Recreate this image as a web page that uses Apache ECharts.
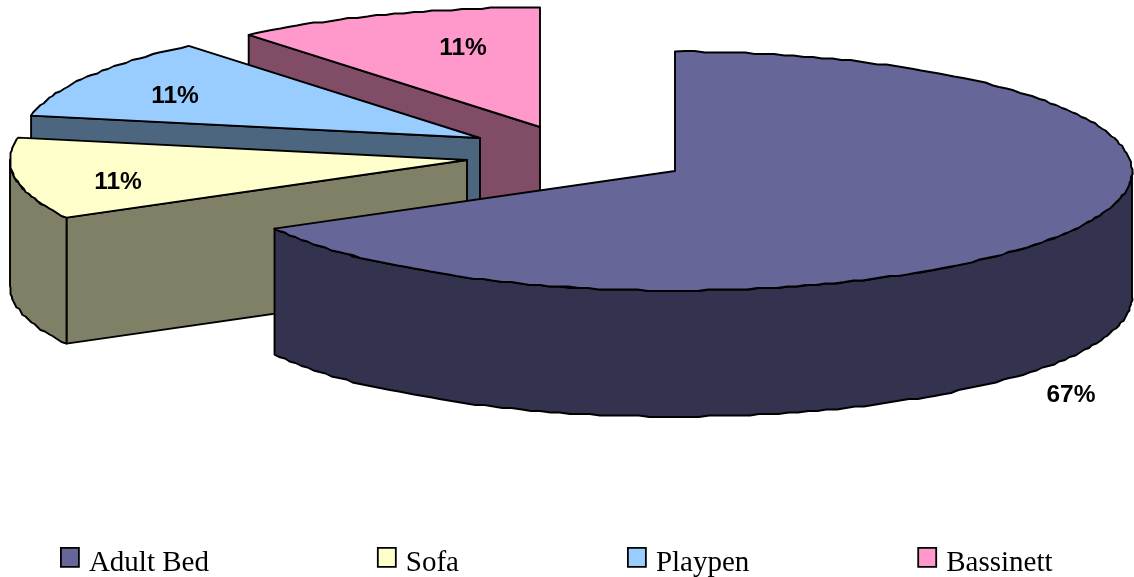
<!DOCTYPE html>
<html>
<head>
<meta charset="utf-8">
<style>html,body{margin:0;padding:0;background:#fff}#chart{width:1134px;height:577px}</style>
<script src="https://cdn.jsdelivr.net/npm/echarts@6/dist/echarts.min.js"></script>
</head>
<body>
<div id="chart"></div>
<script>
// Furniture share, drawn as an exploded 3D pie.
const categories = ['Adult Bed', 'Sofa', 'Playpen', 'Bassinett'];
const shares = [67, 11, 11, 11];
const topColors = ['#666699', '#FFFFCC', '#99CCFF', '#FF99CC'];
const sideColors = ['#333350', '#808066', '#4C6680', '#804C66'];

// Ellipse of the pie's top face and the height of its wall.
const RX = 457, RY = 119.5, DEPTH = 126;
// Where each exploded slice's tip sits, and its label offset from the tip.
const tips = [[675, 171], [467, 160], [480, 138], [540, 127]];
const labelOffsets = [[396, 224], [-349, 22], [-305, -42], [-77, -79]];
// Arc outlines are quantised to this grid, giving the slightly stepped edge of the plot.
const ARC_GRID = 1.5;
const ARC_STEP = 0.022;

const total = shares.reduce((a, b) => a + b, 0);
const angleOf = v => echarts.number.linearMap(v, [0, total], [0, Math.PI * 2]);
const startShare = i => shares.slice(0, i).reduce((a, b) => a + b, 0);

function rim(tip, a) {
  return [tip[0] + RX * Math.sin(a), tip[1] - RY * Math.cos(a)];
}
function arcPoints(tip, a0, a1) {
  const n = Math.max(2, Math.ceil(Math.abs(a1 - a0) / ARC_STEP));
  const pts = [];
  for (let k = 0; k <= n; k++) {
    const p = rim(tip, a0 + (a1 - a0) * k / n);
    if (k === 0 || k === n) { pts.push(p); continue; }
    pts.push([Math.round(p[0] / ARC_GRID) * ARC_GRID, Math.round(p[1] / ARC_GRID) * ARC_GRID]);
  }
  return pts;
}
const drop = pts => pts.map(p => [p[0], p[1] + DEPTH]);
const lineStyle = fill => ({ fill, stroke: '#000', lineWidth: 1.9, lineJoin: 'round' });

function renderSlice(i) {
  return function (params, api) {
    const value = api.value(0);
    const a0 = angleOf(startShare(i));
    const a1 = a0 + angleOf(value);
    const tip = tips[i];
    const children = [];

    // Cut face on the leading edge, seen only when it turns toward the viewer.
    if (Math.sin(a0) < -1e-6) {
      const e = rim(tip, a0);
      children.push({
        type: 'polygon',
        shape: { points: [tip, e, [e[0], e[1] + DEPTH], [tip[0], tip[1] + DEPTH]] },
        style: lineStyle(sideColors[i])
      });
    }
    // Outer wall: only the part of the rim on the near half of the ellipse.
    const w0 = Math.max(a0, Math.PI / 2), w1 = Math.min(a1, Math.PI * 1.5);
    if (w1 > w0) {
      const upper = arcPoints(tip, w0, w1);
      children.push({
        type: 'polygon',
        shape: { points: upper.concat(drop(upper).reverse()) },
        style: lineStyle(sideColors[i])
      });
    }
    // Top face.
    children.push({
      type: 'polygon',
      shape: { points: [tip].concat(arcPoints(tip, a0, a1)) },
      style: lineStyle(topColors[i])
    });
    children.push({
      type: 'text',
      x: tip[0] + labelOffsets[i][0],
      y: tip[1] + labelOffsets[i][1],
      style: {
        text: Math.round(value / total * 100) + '%',
        font: 'bold 24.5px "Liberation Sans", Arial, sans-serif',
        fill: '#000', align: 'center', verticalAlign: 'middle'
      }
    });
    return { type: 'group', children };
  };
}

const legendFont = '"Liberation Serif", "Times New Roman", serif';
const chart = echarts.init(document.getElementById('chart'), null, { renderer: 'canvas' });
chart.setOption({
  animation: false,
  backgroundColor: '#fff',
  legend: {
    left: 60, top: 547,
    padding: 0,
    icon: 'rect',
    itemWidth: 18, itemHeight: 19, itemGap: 168,
    itemStyle: { borderColor: '#000', borderWidth: 1.8 },
    formatter: '{t|{name}}',
    textStyle: {
      fontFamily: legendFont,
      fontSize: 29, color: '#000',
      rich: {
        t: { fontFamily: legendFont, fontSize: 29, color: '#000', padding: [11, 0, 0, 5] }
      }
    },
    data: categories
  },
  // Painted far slice first so nearer slices overlap it.
  series: categories.map((name, i) => ({ name, index: i })).reverse().map(({ name, index }) => ({
    type: 'custom',
    name,
    coordinateSystem: 'none',
    silent: true,
    itemStyle: { color: topColors[index] },
    renderItem: renderSlice(index),
    data: [[shares[index]]]
  }))
});
</script>
</body>
</html>
